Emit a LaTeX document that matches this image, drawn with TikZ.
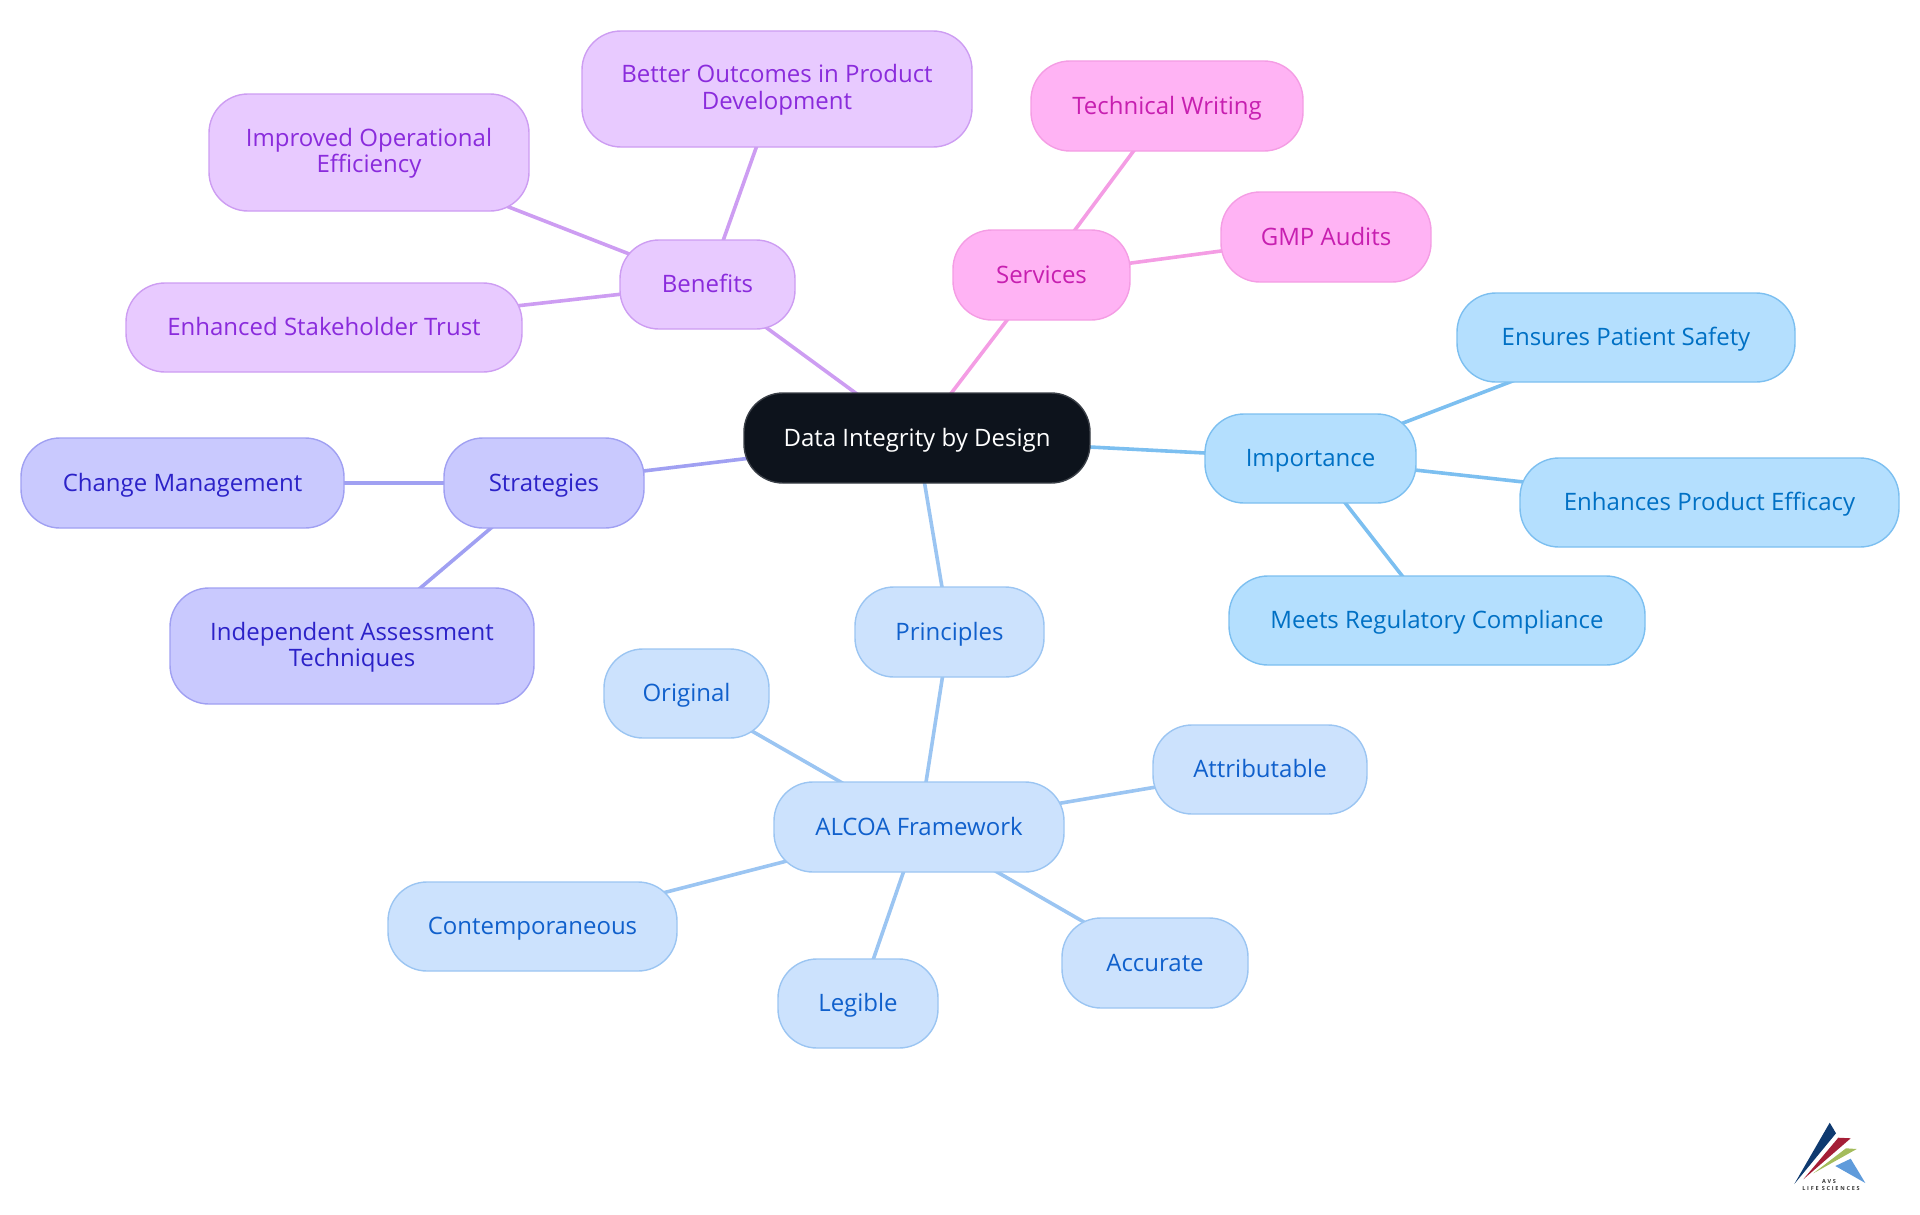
\documentclass[tikz,border=0pt]{standalone}
\usepackage{fontspec}
\setmainfont{Open Sans}
\usetikzlibrary{backgrounds}
\definecolor{rootfill}{HTML}{0D131C}\definecolor{rootline}{HTML}{3A3F47}
\definecolor{impfill}{HTML}{B4DFFE}\definecolor{impline}{HTML}{7CBFF0}\definecolor{imptext}{HTML}{0070C4}
\definecolor{prifill}{HTML}{CCE2FD}\definecolor{priline}{HTML}{9BC5F2}\definecolor{pritext}{HTML}{1060CC}
\definecolor{strfill}{HTML}{C9C9FE}\definecolor{strline}{HTML}{A0A0F2}\definecolor{strtext}{HTML}{2C22C8}
\definecolor{benfill}{HTML}{E8CAFF}\definecolor{benline}{HTML}{CD9DF2}\definecolor{bentext}{HTML}{8A2BDC}
\definecolor{serfill}{HTML}{FFB3F4}\definecolor{serline}{HTML}{F49DE4}\definecolor{sertext}{HTML}{C71FB0}
\definecolor{logonavy}{HTML}{0F3A70}\definecolor{logored}{HTML}{A51E36}\definecolor{logogreen}{HTML}{A4BC5C}\definecolor{logoblue}{HTML}{5F9BDB}
\tikzset{
  mm/.style={draw,rounded corners=39pt,line width=1.4pt,inner sep=0pt,align=center,
    text height=20pt,text depth=4pt,
    font=\fontsize{24}{26}\selectfont},
  twolines/.style={text height=46pt,text depth=6pt},
  root/.style={mm,fill=rootfill,draw=rootline,text=white},
  imp/.style={mm,fill=impfill,draw=impline,text=imptext},
  pri/.style={mm,fill=prifill,draw=priline,text=pritext},
  strat/.style={mm,fill=strfill,draw=strline,text=strtext},
  ben/.style={mm,fill=benfill,draw=benline,text=bentext},
  ser/.style={mm,fill=serfill,draw=serline,text=sertext},
  edge/.style={line width=3.6pt},
  logotext/.style={inner sep=0pt,text=black!80,font=\fontsize{5.5}{6}\selectfont\bfseries\addfontfeatures{LetterSpace=32}}
}
% box: style, name, x0, y0, x1, y1, text
\newcommand{\mmbox}[7]{%
  \pgfmathsetmacro{\bw}{#5-#3}\pgfmathsetmacro{\bh}{#6-#4}%
  \pgfmathsetmacro{\bx}{(#3+#5)/2}\pgfmathsetmacro{\by}{(#4+#6)/2}%
  \node[#1,minimum width=\bw pt,minimum height=\bh pt] (#2) at (\bx,\by) {#7};}
\begin{document}
\begin{tikzpicture}[x=1pt,y=-1pt]
\useasboundingbox (0,0) rectangle (1920,1215);
\mmbox{root}{r}{744}{393}{1090}{483}{Data Integrity by Design}
\mmbox{imp}{imp}{1205}{414}{1416}{503}{Importance}
\mmbox{imp}{safety}{1457}{293}{1795}{382}{Ensures Patient Safety}
\mmbox{imp}{efficacy}{1520}{458}{1899}{547}{Enhances Product Efficacy}
\mmbox{imp}{meets}{1229}{576}{1645}{665}{Meets Regulatory Compliance}
\mmbox{pri}{prin}{855}{587}{1044}{677}{Principles}
\mmbox{pri}{alcoa}{774}{782}{1064}{872}{ALCOA Framework}
\mmbox{pri}{orig}{604}{649}{769}{738}{Original}
\mmbox{pri}{attr}{1153}{725}{1367}{814}{Attributable}
\mmbox{pri}{cont}{388}{882}{677}{971}{Contemporaneous}
\mmbox{pri}{leg}{778}{959}{938}{1048}{Legible}
\mmbox{pri}{acc}{1062}{918}{1248}{1008}{Accurate}
\mmbox{strat}{strat}{444}{438}{644}{528}{Strategies}
\mmbox{strat}{chg}{21}{438}{344}{528}{Change Management}
\mmbox{strat,twolines}{ind}{170}{588}{534}{704}{Independent Assessment\\Techniques}
\mmbox{ben}{ben}{620}{240}{795}{329}{Benefits}
\mmbox{ben,twolines}{impr}{209}{94}{529}{211}{Improved Operational\\Efficiency}
\mmbox{ben,twolines}{better}{582}{31}{972}{147}{Better Outcomes in Product\\Development}
\mmbox{ben}{trust}{126}{283}{522}{372}{Enhanced Stakeholder Trust}
\mmbox{ser}{ser}{953}{230}{1130}{320}{Services}
\mmbox{ser}{tech}{1031}{61}{1303}{151}{Technical Writing}
\mmbox{ser}{gmp}{1221}{192}{1431}{282}{GMP Audits}
\begin{scope}[on background layer]
\draw[edge,impline] (r.center)--(imp.center) (imp.center)--(safety.center) (imp.center)--(efficacy.center) (imp.center)--(meets.center);
\draw[edge,priline] (r.center)--(prin.center) (prin.center)--(alcoa.center) (alcoa.center)--(orig.center) (alcoa.center)--(attr.center) (alcoa.center)--(cont.center) (alcoa.center)--(leg.center) (alcoa.center)--(acc.center);
\draw[edge,strline] (r.center)--(strat.center) (strat.center)--(chg.center) (strat.center)--(ind.center);
\draw[edge,benline] (r.center)--(ben.center) (ben.center)--(impr.center) (ben.center)--(better.center) (ben.center)--(trust.center);
\draw[edge,serline] (r.center)--(ser.center) (ser.center)--(tech.center) (ser.center)--(gmp.center);
\end{scope}
% logo
\fill[logonavy] (1829.7,1122.7)--(1836,1133.3)--(1794.3,1184)--cycle;
\fill[logored] (1838.3,1137.7)--(1850.7,1138.3)--(1803.3,1179.3)--cycle;
\fill[logogreen] (1846,1148.3)--(1856.7,1149)--(1813.3,1173.3)--cycle;
\fill[logoblue] (1850.7,1158.7)--(1865.3,1183)--(1835.3,1166)--cycle;
\node[logotext] (avs) at (1829,1182) {AVS};
\node[logotext] (life) at (1831,1189) {LIFE SCIENCES};
\end{tikzpicture}
\end{document}
